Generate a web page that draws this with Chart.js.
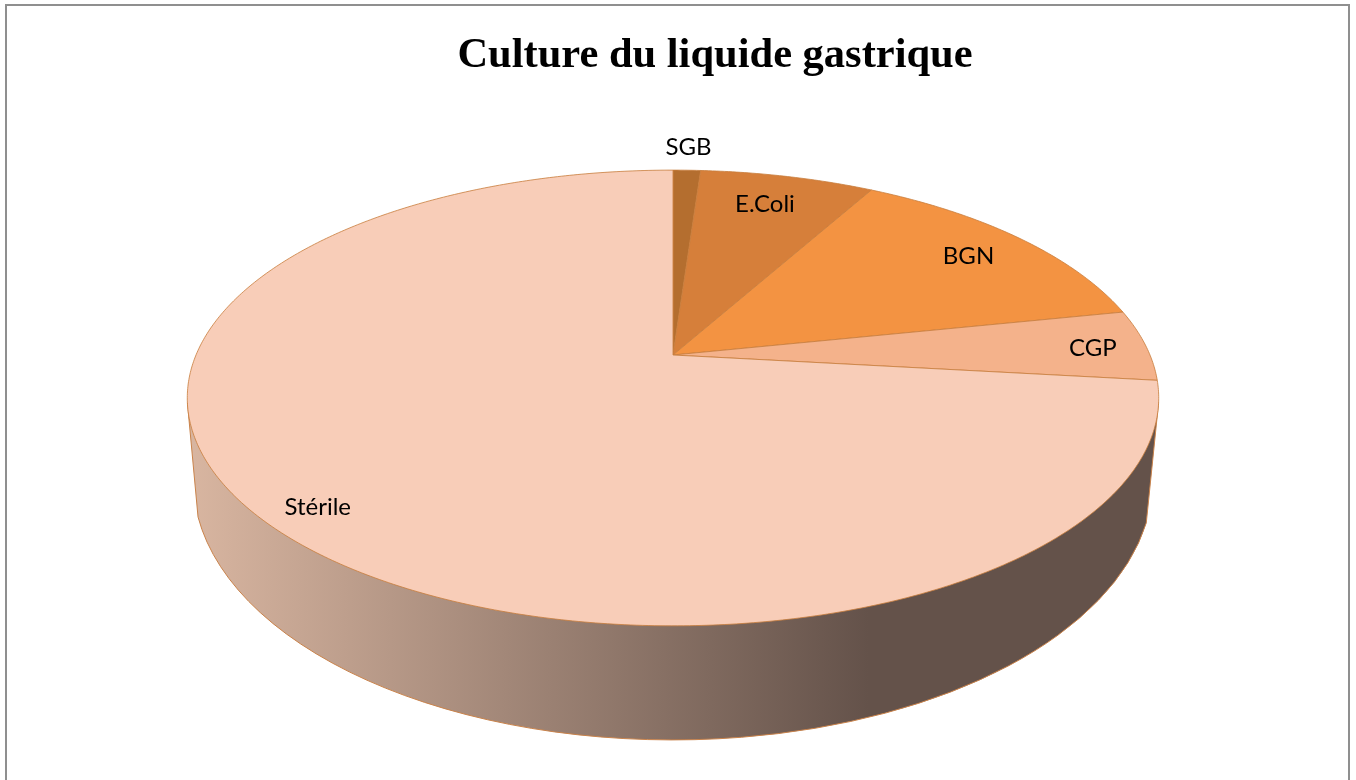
<!DOCTYPE html>
<html>
<head>
<meta charset="utf-8">
<title>Culture du liquide gastrique</title>
<script src="https://cdn.jsdelivr.net/npm/chart.js@4"></script>
<style>
  html, body { margin: 0; padding: 0; background: #fff; overflow: hidden; }
  canvas { display: block; }
</style>
</head>
<body>
<canvas id="pieChart" width="1356" height="780"></canvas>
<script>
const categories = ["SGB", "E.Coli", "BGN", "CGP", "Stérile"];
const values = [1.1, 6.95, 13.7, 5.05, 73.2];
const sliceColors = ["#b46e2f", "#d67f3a", "#f39342", "#f4b28b", "#f8cdb8"];
// how far out each label sits, as a share of the radius, and its turn off the slice middle in degrees
const labelDistance = [1.15, 0.82, 0.835, 0.886, 0.9];
const labelTurn = [0, -0.8, 0.5, 0.6, -1.2];

// tilted disc: the far side shrinks, so the centre is not the middle of the ellipse
const tilt = 0.1886;
const squash = 0.4607;

function project(arc, angle, dist) {
  const u = Math.cos(angle) * dist;
  const v = Math.sin(angle) * dist;
  const w = 1 - tilt * v;
  return {
    x: arc.x + arc.outerRadius * u / w,
    y: arc.y + arc.outerRadius * squash * v / w,
  };
}

const disc3d = {
  id: "disc3d",
  afterLayout(chart) {
    // title is off centre in the original
    chart.titleBlock.left += 42;
    chart.titleBlock.right += 42;
  },
  beforeDraw(chart) {
    const ctx = chart.ctx;
    ctx.save();
    ctx.strokeStyle = "#8f8f8f";
    ctx.lineWidth = 2;
    ctx.strokeRect(6, 5, 1343, 800);
    ctx.restore();
  },
  beforeDatasetDraw(chart, args) {
    const ctx = chart.ctx;
    const arcs = args.meta.data;
    const first = arcs[0];
    const cx = first.x;
    const cy = first.y;
    const r = first.outerRadius;

    // side wall
    const wall = ctx.createLinearGradient(cx - r * 1.02, 0, cx + r * 0.41, 0);
    wall.addColorStop(0, "#d9b6a1");
    wall.addColorStop(1, "#64524a");
    ctx.save();
    ctx.beginPath();
    ctx.moveTo(cx - r * 1.018, cy + r * 0.1);
    ctx.ellipse(cx, cy + r * 0.262, r * 1.006, r * 0.545, 0, Math.PI - 0.143, 0.166, true);
    ctx.lineTo(cx + r * 1.018, cy + r * 0.1);
    ctx.closePath();
    ctx.fillStyle = wall;
    ctx.fill();
    ctx.strokeStyle = "#c9824a";
    ctx.lineWidth = 1;
    ctx.stroke();

    // top of the disc, slices taken from the library's arc elements
    arcs.forEach((arc) => {
      ctx.beginPath();
      ctx.moveTo(arc.x, arc.y);
      const steps = Math.ceil((arc.endAngle - arc.startAngle) / 0.01);
      for (let i = 0; i <= steps; i++) {
        const a = arc.startAngle + (arc.endAngle - arc.startAngle) * i / steps;
        const p = project(arc, a, 1);
        ctx.lineTo(p.x, p.y);
      }
      ctx.closePath();
      ctx.fillStyle = arc.options.backgroundColor;
      ctx.fill();
      ctx.strokeStyle = arc.options.borderColor;
      ctx.lineWidth = arc.options.borderWidth;
      ctx.stroke();
    });
    ctx.restore();
    return false;
  },
  afterDatasetsDraw(chart) {
    const ctx = chart.ctx;
    const arcs = chart.getDatasetMeta(0).data;
    ctx.save();
    ctx.font = "24px Lato";
    ctx.fillStyle = "#000";
    ctx.textAlign = "center";
    ctx.textBaseline = "middle";
    arcs.forEach((arc, i) => {
      const mid = (arc.startAngle + arc.endAngle) / 2 + labelTurn[i] * Math.PI / 180;
      const p = project(arc, mid, labelDistance[i]);
      ctx.fillText(categories[i], p.x, p.y);
    });
    ctx.restore();
  },
};

new Chart(document.getElementById("pieChart"), {
  type: "pie",
  data: {
    labels: categories,
    datasets: [
      {
        data: values,
        backgroundColor: sliceColors,
        borderColor: "rgba(200, 125, 60, 0.8)",
        borderWidth: 1,
        radius: 477,
      },
    ],
  },
  options: {
    responsive: false,
    animation: false,
    layout: { padding: { right: 10, bottom: 152 } },
    plugins: {
      legend: { display: false },
      tooltip: { enabled: false },
      title: {
        display: true,
        text: "Culture du liquide gastrique",
        color: "#000",
        font: { family: "'Liberation Serif'", size: 42.5, weight: "bold", lineHeight: 1.2 },
        padding: { top: 31, bottom: 0 },
      },
    },
  },
  plugins: [disc3d],
});
</script>
</body>
</html>
